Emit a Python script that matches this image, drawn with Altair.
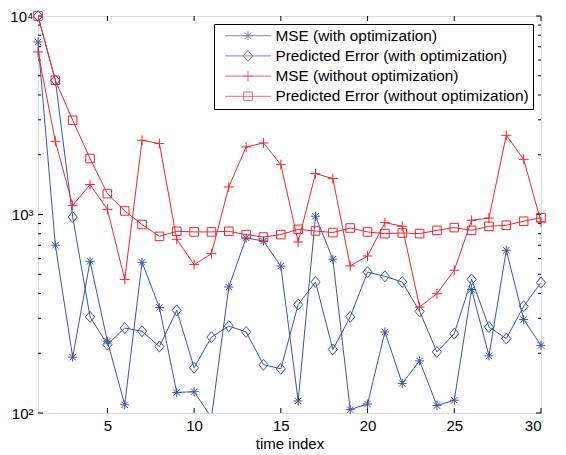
import altair as alt
import pandas as pd

# ---------------- data ----------------
time_index = list(range(1, 31))
mse_opt = [7400, 700, 191, 581, 230, 110, 574, 340, 127, 128, 95, 431, 762, 735, 550,
           115, 980, 595, 104, 111, 256, 141, 183, 109, 116, 419, 194, 660, 296, 219]
pred_opt = [10000, 4745, 971, 305, 221, 268, 258, 216, 329, 169, 241, 274, 256, 175, 167,
            352, 457, 209, 305, 513, 488, 457, 325, 203, 251, 471, 271, 237, 345, 454]
mse_noopt = [6590, 2337, 1112, 1415, 1062, 471, 2365, 2277, 750, 559, 635, 1376, 2189, 2293, 1784,
             727, 1607, 1517, 551, 618, 910, 872, 342, 399, 524, 935, 960, 2506, 1897, 917]
pred_noopt = [10000, 4745, 2983, 1914, 1274, 1042, 890, 776, 823, 817, 817, 823, 792, 770, 792,
              842, 826, 811, 855, 817, 801, 807, 801, 832, 859, 832, 872, 883, 925, 964]

series_names = ["MSE (with optimization)", "Predicted Error (with optimization)",
                "MSE (without optimization)", "Predicted Error (without optimization)"]
series_values = [mse_opt, pred_opt, mse_noopt, pred_noopt]

x_ticks = [5, 10, 15, 20, 25, 30]
y_major = [100, 1000, 10000]
y_minor = [200, 300, 400, 500, 600, 700, 800, 900,
           2000, 3000, 4000, 5000, 6000, 7000, 8000, 9000]

# ---------------- styles ----------------
BLUE = "#3a55a8"
RED = "#ee262c"
colors = [BLUE, BLUE, RED, RED]
FONT = "Liberation Sans"
W, H = 503, 397

# marker outlines in unit coordinates
marker_defs = [
    [[(-1, 0), (1, 0)], [(0, -1), (0, 1)], [(-0.71, -0.71), (0.71, 0.71)], [(-0.71, 0.71), (0.71, -0.71)]],
    [[(0, -1.22), (1.02, 0), (0, 1.22), (-1.02, 0), (0, -1.22)]],
    [[(-1.1, 0), (1.1, 0)], [(0, -1.1), (0, 1.1)]],
    [[(-0.95, -0.95), (0.95, -0.95), (0.95, 0.95), (-0.95, 0.95), (-0.95, -0.95)]],
]


def to_path(parts, dx=0.0):
    out = []
    for pts in parts:
        out.append("M" + "L".join(f"{px + dx:.3f},{py:.3f}" for px, py in pts))
    return "".join(out)


marker_paths = [to_path(m) for m in marker_defs]
LEG_DX = 4.95
legend_paths = ["M-0.15,0L10.1,0" + to_path(m, LEG_DX) for m in marker_defs]

# ---------------- tables ----------------
rows = []
for name, vals in zip(series_names, series_values):
    for t, v in zip(time_index, vals):
        rows.append({"t": t, "v": v, "series": name})
df = pd.DataFrame(rows)

xtick_df = pd.DataFrame({"t": x_ticks})
ytick_major_df = pd.DataFrame({"v": y_major})
ytick_minor_df = pd.DataFrame({"v": y_minor})

# ---------------- encodings ----------------
x_enc = alt.X("t:Q",
              scale=alt.Scale(domain=[1, 30], nice=False, zero=False),
              axis=alt.Axis(values=x_ticks, title="time index", grid=False, tickSize=0,
                            domain=False, labelPadding=5, titlePadding=3,
                            labelFont=FONT, labelFontSize=15, titleFont=FONT,
                            titleFontSize=15, titleFontWeight="normal",
                            labelColor="black", titleColor="black"))
label_expr = "datum.value == 100 ? '10²' : datum.value == 1000 ? '10³' : '10⁴'"
y_enc = alt.Y("v:Q",
              scale=alt.Scale(type="log", domain=[100, 10000], nice=False),
              axis=alt.Axis(values=y_major, labelExpr=label_expr, title=None, grid=False,
                            tickSize=0, domain=False, labelPadding=5,
                            labelFont=FONT, labelFontSize=15, labelColor="black"))

color_scale = alt.Scale(domain=series_names, range=colors)

lines = alt.Chart(df).mark_line(strokeWidth=1, clip=True).encode(
    x=x_enc, y=y_enc,
    color=alt.Color("series:N", scale=color_scale, legend=None),
)

points = alt.Chart(df).transform_filter("datum.v >= 100").mark_point(
    filled=False, strokeWidth=1, size=81, opacity=1).encode(
    x=x_enc, y=y_enc,
    color=alt.Color("series:N", scale=color_scale, legend=None),
    shape=alt.Shape("series:N", scale=alt.Scale(domain=series_names, range=marker_paths), legend=None),
)

leg = alt.Legend(title=None, orient="none", legendX=176, legendY=8,
                 strokeColor="black", fillColor="white", padding=4,
                 labelFont=FONT, labelFontSize=15.4, labelColor="black",
                 labelOffset=42, rowPadding=3.2, symbolSize=81, symbolStrokeWidth=1,
                 labelLimit=400)
legend_layer = alt.Chart(df).transform_filter("false").mark_point(
    filled=False, strokeWidth=1, size=81).encode(
    x=x_enc, y=y_enc,
    color=alt.Color("series:N", scale=color_scale, legend=leg),
    shape=alt.Shape("series:N", scale=alt.Scale(domain=series_names, range=legend_paths), legend=leg),
)

# inward tick marks (MATLAB style)
tick_style = dict(color="black", strokeWidth=1)
xt_bottom = alt.Chart(xtick_df).mark_rule(**tick_style).encode(
    x=x_enc, y=alt.value(H - 5), y2=alt.value(H))
xt_top = alt.Chart(xtick_df).mark_rule(**tick_style).encode(
    x=x_enc, y=alt.value(0), y2=alt.value(5))
yt_major_l = alt.Chart(ytick_major_df).mark_rule(**tick_style).encode(
    y=y_enc, x=alt.value(0), x2=alt.value(5))
yt_major_r = alt.Chart(ytick_major_df).mark_rule(**tick_style).encode(
    y=y_enc, x=alt.value(W - 5), x2=alt.value(W))
yt_minor_l = alt.Chart(ytick_minor_df).mark_rule(**tick_style).encode(
    y=y_enc, x=alt.value(0), x2=alt.value(3))
yt_minor_r = alt.Chart(ytick_minor_df).mark_rule(**tick_style).encode(
    y=y_enc, x=alt.value(W - 3), x2=alt.value(W))

chart = alt.layer(
    xt_bottom, xt_top, yt_major_l, yt_major_r, yt_minor_l, yt_minor_r,
    lines, points, legend_layer,
).resolve_scale(
    color="independent", shape="independent"
).properties(
    width=W, height=H,
    autosize=alt.AutoSizeParams(type="none"),
    padding={"left": 30, "top": 8, "right": 16, "bottom": 39},
).configure_view(
    stroke="black", strokeWidth=1.3
).configure(background="white")

chart.save("out.html", embed_options={"renderer": "svg", "actions": False})
